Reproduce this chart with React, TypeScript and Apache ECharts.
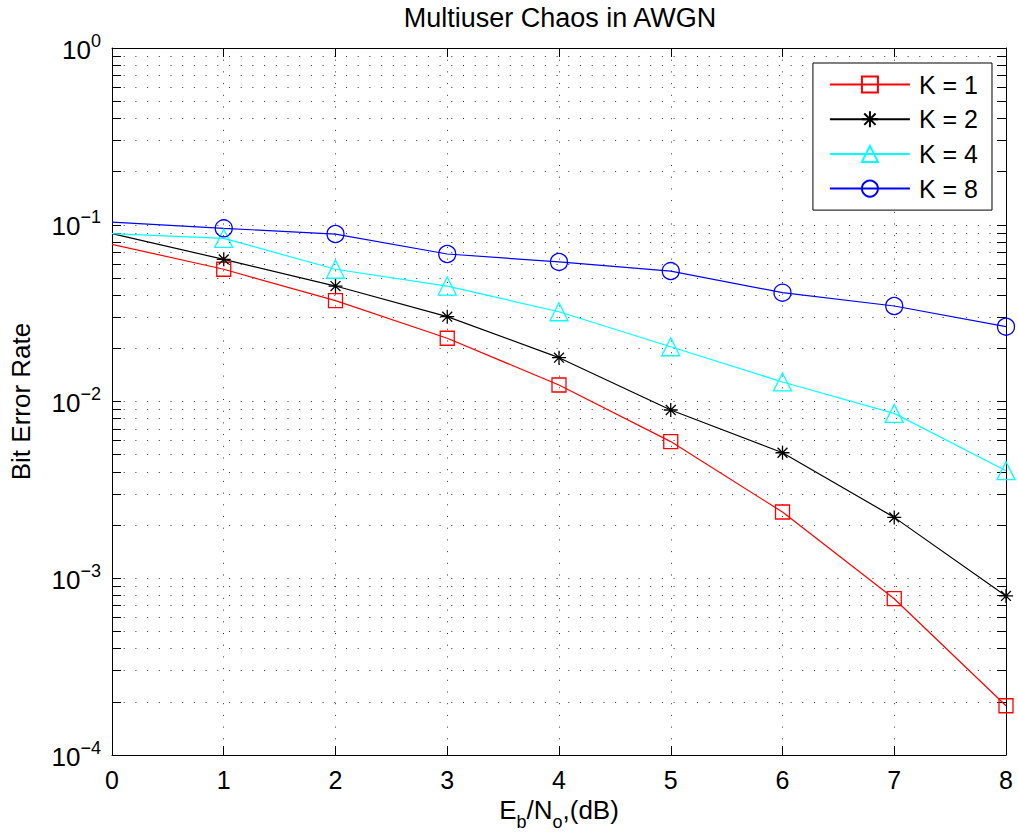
import React, { useEffect, useRef } from 'react';
import * as echarts from 'echarts';

const EBNO = [0, 1, 2, 3, 4, 5, 6, 7, 8];
const K1 = [0.0775, 0.056, 0.0372, 0.0228, 0.0124, 0.00593, 0.00237, 0.000766, 0.00019];
const K2 = [0.089, 0.0637, 0.045, 0.0302, 0.0177, 0.00895, 0.00513, 0.00221, 0.000794];
const K4 = [0.089, 0.0838, 0.056, 0.045, 0.0322, 0.0204, 0.0129, 0.00857, 0.00406];
const K8 = [0.1036, 0.0954, 0.0886, 0.0683, 0.0616, 0.0547, 0.0413, 0.0347, 0.0265];
const SERIES_NAMES = ['K = 1', 'K = 2', 'K = 4', 'K = 8'];
const TITLE = 'Multiuser Chaos in AWGN';
const Y_NAME = 'Bit Error Rate';

const FONT = "'Liberation Sans', Arial, Helvetica, sans-serif";
const STAR = 'path://M0,-10L0,10M-10,0L10,0M-7.07,-7.07L7.07,7.07M-7.07,7.07L7.07,-7.07';
const DOT: any = { color: '#333', width: 1, type: [1, 10.7] };

export default function App() {
  const ref = useRef<HTMLDivElement>(null);
  useEffect(() => {
    if (!ref.current) return;
    const chart = echarts.init(ref.current, undefined, { renderer: 'svg' });
    // first point (x = 0) is drawn without a marker, as in the reference
    const zip = (ys: number[]) =>
      EBNO.map((x, i) => (i === 0 ? { value: [x, ys[i]], symbol: 'none' } : { value: [x, ys[i]] }));
    const mk = (name: string, ys: number[], color: string, symbol: string, size: number) => ({
      name,
      type: 'line',
      xAxisIndex: 0,
      yAxisIndex: 0,
      data: zip(ys),
      symbol,
      symbolSize: size,
      symbolKeepAspect: true,
      showSymbol: true,
      lineStyle: { color, width: 1.2 },
      itemStyle: { color: 'none', borderColor: color, borderWidth: 1.3 },
      emphasis: { disabled: true },
      silent: true,
    });
    const yLabel = (v: number) => {
      const e = Math.round(Math.log10(v));
      const s = e === 0 ? '0' : '\u2212' + Math.abs(e);
      return `{b|10}{e|${s}}`;
    };
    const option: any = {
      animation: false,
      backgroundColor: '#fff',
      textStyle: { fontFamily: FONT },
      title: {
        text: TITLE,
        left: 555,
        textAlign: 'center',
        top: -1,
        textStyle: { fontFamily: FONT, fontSize: 27, fontWeight: 'normal', color: '#000' },
      },
      grid: { left: 111, right: 12, top: 48, bottom: 85, containLabel: false },
      legend: {
        orient: 'vertical',
        right: 26,
        top: 63,
        padding: [9, 14, 9, 16],
        itemWidth: 80,
        itemHeight: 20,
        itemGap: 9.7,
        selectedMode: false,
        backgroundColor: '#fff',
        borderColor: '#000',
        borderWidth: 1,
        borderRadius: 0,
        textStyle: { fontFamily: FONT, fontSize: 25, color: '#000', lineHeight: 24, padding: [0, 0, 0, 4] },
        data: SERIES_NAMES,
      },
      xAxis: [
        {
          type: 'value',
          min: 0,
          max: 8,
          interval: 1,
          position: 'bottom',
          name: '{n|E}{s|b}{n|/N}{s|o}{n|,(dB)}',
          nameLocation: 'middle',
          nameGap: 40,
          nameTextStyle: {
            rich: {
              n: { fontFamily: FONT, fontSize: 26, color: '#000', verticalAlign: 'bottom', padding: [0, 0, 8, 0] },
              s: { fontFamily: FONT, fontSize: 18, color: '#000', verticalAlign: 'bottom' },
            },
          },
          axisLine: { show: true, onZero: false, lineStyle: { color: '#000', width: 1 } },
          axisTick: { show: true, inside: true, length: 9, lineStyle: { color: '#000' } },
          axisLabel: { show: true, margin: 12, fontFamily: FONT, fontSize: 25, color: '#000' },
          splitLine: { show: true, lineStyle: DOT },
        },
        {
          type: 'value',
          min: 0,
          max: 8,
          interval: 1,
          position: 'top',
          axisLine: { show: true, onZero: false, lineStyle: { color: '#000', width: 1 } },
          axisTick: { show: true, inside: true, length: 9, lineStyle: { color: '#000' } },
          axisLabel: { show: false },
          splitLine: { show: false },
        },
      ],
      yAxis: [
        {
          type: 'log',
          logBase: 10,
          min: 0.0001,
          max: 1,
          position: 'left',
          name: Y_NAME,
          nameLocation: 'middle',
          nameGap: 78,
          nameTextStyle: { fontFamily: FONT, fontSize: 26, color: '#000' },
          axisLine: { show: true, onZero: false, lineStyle: { color: '#000', width: 1 } },
          axisTick: { show: true, inside: true, length: 9, lineStyle: { color: '#000' } },
          minorTick: { show: true, splitNumber: 9, length: 9, lineStyle: { color: '#000' } },
          axisLabel: {
            show: true,
            margin: 11,
            formatter: yLabel,
            rich: {
              b: { fontFamily: FONT, fontSize: 26, color: '#000', verticalAlign: 'bottom', padding: [0, 0, 2, 0] },
              e: { fontFamily: FONT, fontSize: 18, color: '#000', verticalAlign: 'bottom', padding: [0, 0, 15, 0] },
            },
          },
          splitLine: { show: true, lineStyle: DOT },
          minorSplitLine: { show: true, lineStyle: DOT },
        },
        {
          type: 'log',
          logBase: 10,
          min: 0.0001,
          max: 1,
          position: 'right',
          axisLine: { show: true, onZero: false, lineStyle: { color: '#000', width: 1 } },
          axisTick: { show: true, inside: true, length: 9, lineStyle: { color: '#000' } },
          minorTick: { show: true, splitNumber: 9, length: 9, lineStyle: { color: '#000' } },
          axisLabel: { show: false },
          splitLine: { show: false },
          minorSplitLine: { show: false },
        },
      ],
      series: [
        mk(SERIES_NAMES[0], K1, '#ff0000', 'rect', 14),
        mk(SERIES_NAMES[1], K2, '#000000', STAR, 14),
        mk(SERIES_NAMES[2], K4, '#00ffff', 'triangle', 18),
        mk(SERIES_NAMES[3], K8, '#0000ff', 'circle', 17),
      ],
    };
    chart.setOption(option);
    return () => chart.dispose();
  }, []);
  return (
    <div
      ref={ref}
      style={{ position: 'fixed', left: 0, top: 0, width: 1018, height: 840, background: '#fff' }}
    />
  );
}
